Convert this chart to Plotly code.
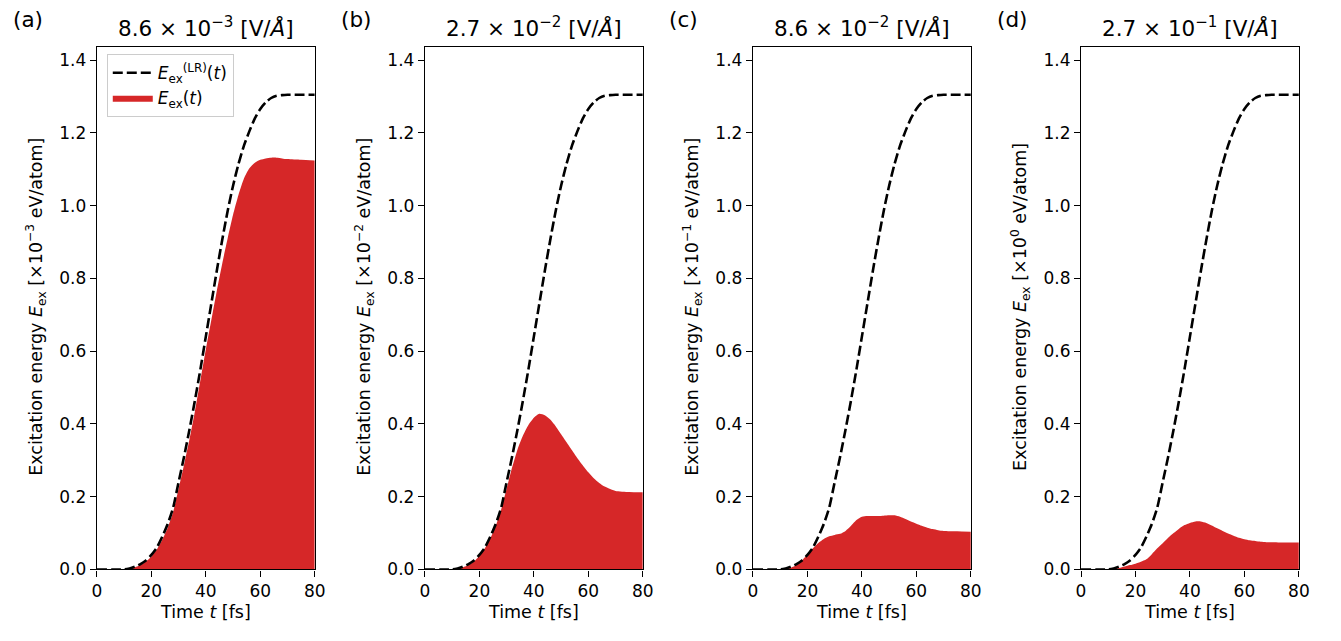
import plotly.graph_objects as go

# ---------------- data ----------------
time_fs = [0, 10, 12, 14, 16, 18, 20, 22, 24, 26, 28, 30, 32, 34, 36, 38, 40, 42, 44,
           46, 48, 50, 52, 54, 56, 58, 60, 62, 64, 66, 68, 70, 75, 80]

e_lr = [0, 0.0, 0.003, 0.008, 0.015, 0.025, 0.04, 0.06, 0.09, 0.125, 0.17, 0.24, 0.31,
        0.385, 0.465, 0.55, 0.64, 0.73, 0.82, 0.905, 0.985, 1.055, 1.115, 1.165, 1.205,
        1.24, 1.266, 1.284, 1.296, 1.302, 1.304, 1.305, 1.305, 1.305]

e_a = [0, 0.0, 0.002, 0.006, 0.012, 0.022, 0.036, 0.055, 0.082, 0.115, 0.158, 0.222, 0.288,
       0.358, 0.435, 0.52, 0.605, 0.685, 0.765, 0.84, 0.91, 0.975, 1.03, 1.075, 1.103, 1.118,
       1.126, 1.13, 1.132, 1.132, 1.13, 1.128, 1.126, 1.124]

e_b = [0, 0.0, 0.002, 0.006, 0.012, 0.022, 0.038, 0.058, 0.085, 0.12, 0.165, 0.222, 0.28,
       0.33, 0.368, 0.397, 0.417, 0.428, 0.424, 0.412, 0.394, 0.372, 0.35, 0.328, 0.306,
       0.286, 0.267, 0.251, 0.238, 0.228, 0.221, 0.216, 0.213, 0.212]

e_c = [0, 0.0, 0.002, 0.005, 0.012, 0.025, 0.042, 0.058, 0.073, 0.084, 0.091, 0.095, 0.098,
       0.106, 0.12, 0.136, 0.145, 0.147, 0.147, 0.147, 0.148, 0.149, 0.149, 0.145, 0.139,
       0.132, 0.126, 0.12, 0.115, 0.111, 0.108, 0.106, 0.105, 0.104]

e_d = [0, 0.0, 0.001, 0.004, 0.008, 0.012, 0.016, 0.021, 0.028, 0.042, 0.058, 0.072, 0.087,
       0.1, 0.112, 0.122, 0.128, 0.132, 0.132, 0.128, 0.121, 0.113, 0.106, 0.099, 0.093,
       0.087, 0.083, 0.08, 0.078, 0.076, 0.075, 0.075, 0.074, 0.074]

panel_letters = ["(a)", "(b)", "(c)", "(d)"]
field_titles = ["8.6 × 10<sup>−3</sup> [V/<i>Å</i>]", "2.7 × 10<sup>−2</sup> [V/<i>Å</i>]",
                "8.6 × 10<sup>−2</sup> [V/<i>Å</i>]", "2.7 × 10<sup>−1</sup> [V/<i>Å</i>]"]
scale_exps = ["−3", "−2", "−1", "0"]
x_ticks = [0, 20, 40, 60, 80]
y_ticks = [0.0, 0.2, 0.4, 0.6, 0.8, 1.0, 1.2, 1.4]

# ---------------- layout ----------------
W, H = 1341, 641
left_px = [93, 425, 757, 1089]
width_px = 220.5
top_px, bot_px = 48, 578.5
red = "#d62728"
font = "DejaVu Sans"
fs_tick = 17
fs_label = 17.5
fs_title = 21.5

fig = go.Figure()
series = [e_a, e_b, e_c, e_d]
annotations = []

for i in range(4):
    ax = "" if i == 0 else str(i + 1)
    xa, ya = "x" + ax, "y" + ax
    fig.add_trace(go.Scatter(
        x=time_fs, y=series[i], mode="lines", fill="tozeroy",
        line=dict(width=0, color=red, shape="spline", smoothing=0.6),
        fillcolor=red, name="<i>E</i><sub>ex</sub>(<i>t</i>)",
        showlegend=(i == 0), legendrank=2, xaxis=xa, yaxis=ya, hoverinfo="skip"))
    fig.add_trace(go.Scatter(
        x=time_fs, y=e_lr, mode="lines",
        line=dict(width=2.6, color="black", dash="10px,4px", shape="spline", smoothing=0.6),
        name="<i>E</i><sub>ex</sub><sup>(LR)</sup>(<i>t</i>)",
        showlegend=(i == 0), legendrank=1, xaxis=xa, yaxis=ya, hoverinfo="skip"))

    x0 = left_px[i] / W
    x1 = (left_px[i] + width_px) / W
    axis_common = dict(showline=True, linecolor="black", linewidth=1.3, mirror=True,
                       ticks="outside", ticklen=6, tickwidth=1.3, tickcolor="black",
                       showgrid=False, zeroline=False,
                       tickfont=dict(family=font, size=fs_tick, color="black"))
    fig.update_layout(**{
        "xaxis" + ax: dict(domain=[x0, x1], range=[0, 80], tickvals=x_ticks,
                           anchor=ya, **axis_common),
        "yaxis" + ax: dict(domain=[1 - bot_px / H, 1 - top_px / H], range=[0, 1.4355],
                           tickvals=y_ticks, tickformat=".1f", anchor=xa, **axis_common),
    })
    cx = (left_px[i] + width_px / 2) / W
    annotations.append(dict(text=field_titles[i], x=cx, y=1 - 27 / H, xref="paper",
                            yref="paper", showarrow=False, xanchor="center", yanchor="middle",
                            font=dict(family=font, size=fs_title, color="black")))
    annotations.append(dict(text=panel_letters[i], x=(left_px[i] - 70) / W, y=1 - 20 / H,
                            xref="paper", yref="paper", showarrow=False, xanchor="center",
                            yanchor="middle", font=dict(family=font, size=fs_title, color="black")))
    annotations.append(dict(text="Time <i>t</i> [fs]", x=cx, y=1 - 622 / H, xref="paper",
                            yref="paper", showarrow=False, xanchor="center", yanchor="middle",
                            font=dict(family=font, size=fs_label, color="black")))
    annotations.append(dict(
        text="Excitation energy <i>E</i><sub>ex</sub> [×10<sup>" + scale_exps[i] + "</sup> eV/atom]",
        x=(left_px[i] - 62) / W, y=1 - 312 / H, xref="paper", yref="paper",
        showarrow=False, textangle=-90, xanchor="center", yanchor="middle",
        font=dict(family=font, size=fs_label, color="black")))

fig.update_layout(
    width=W, height=H, margin=dict(l=0, r=0, t=0, b=0),
    paper_bgcolor="white", plot_bgcolor="white",
    annotations=annotations,
    legend=dict(x=103 / W, y=1 - 55 / H, xanchor="left", yanchor="top",
                bgcolor="rgba(255,255,255,0.8)", bordercolor="#cccccc", borderwidth=1,
                font=dict(family=font, size=17, color="black"), itemwidth=40,
                tracegroupgap=2),
    font=dict(family=font),
)

fig.write_html("out.html")
